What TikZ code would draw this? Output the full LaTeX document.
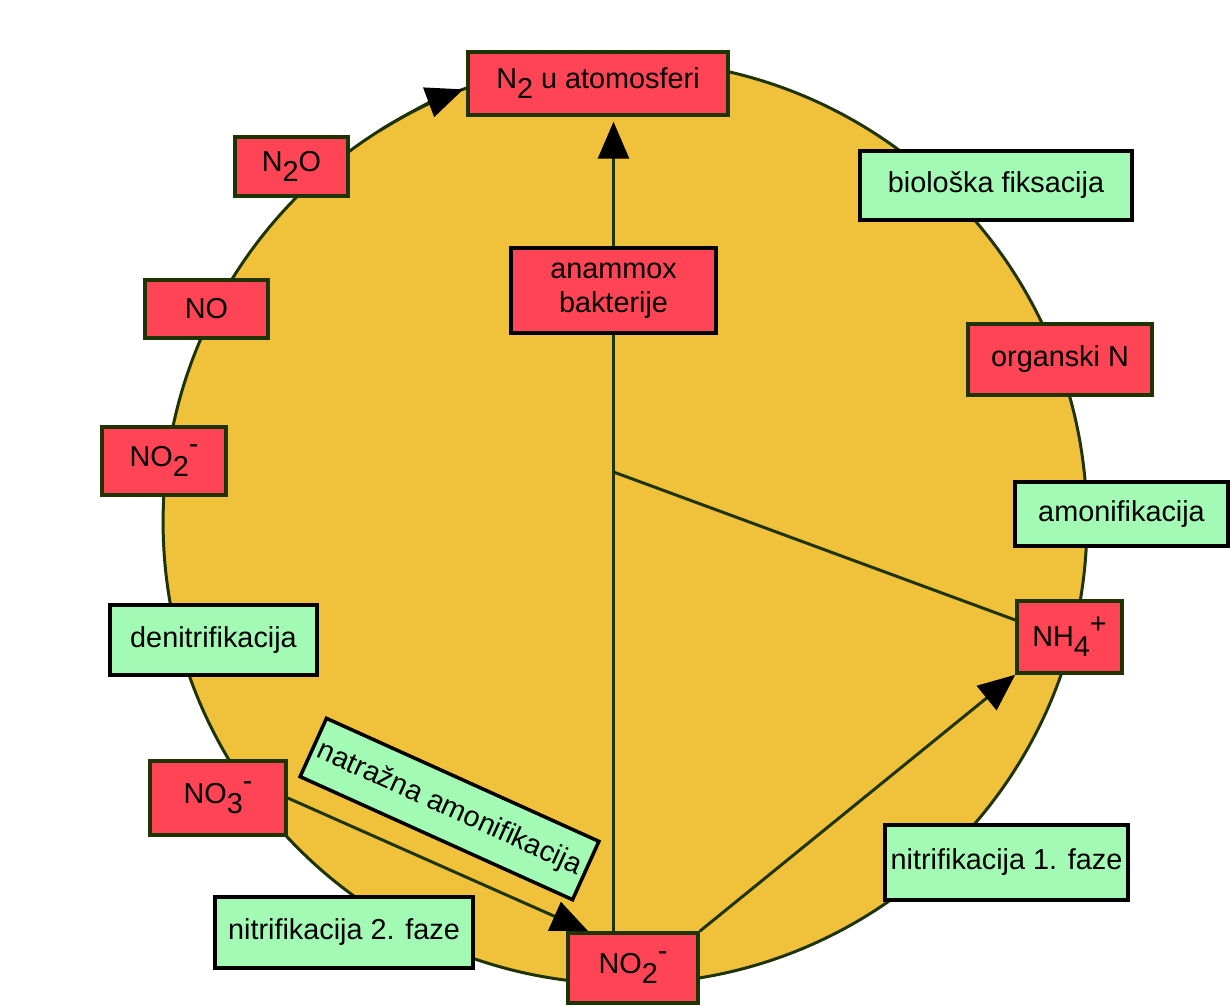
\documentclass[tikz,border=0pt]{standalone}
\usepackage{fontspec}
\setmainfont{Liberation Sans}
\usetikzlibrary{arrows.meta}
\definecolor{zuta}{RGB}{240,194,60}
\definecolor{crvena}{RGB}{255,68,85}
\definecolor{zelena}{RGB}{163,250,181}
\definecolor{tamna}{RGB}{30,52,5}
\newcommand\nizi[1]{\raisebox{-0.35em}{#1}}
\newcommand\vise[1]{\raisebox{0.45em}{#1}}

\begin{document}
\begin{tikzpicture}[x=0.02cm, y=-0.02cm,
  every node/.style={font=\fontsize{16.4}{19.5}\selectfont, inner sep=0pt},
  tvar/.style={draw=tamna, fill=crvena, line width=2pt},
  proces/.style={draw=black, fill=zelena, line width=2pt},
  veza/.style={draw=tamna, line width=1.7pt},
  vrh/.style={-{Triangle[length=7.4mm, width=6.2mm, color=black]}}]
  \useasboundingbox (0,0) rectangle (1230,1006);
  \node[circle, draw=tamna, fill=zuta, line width=1.7pt, minimum size=18.48cm] (krug) at (625,522) {};
  \node[tvar, minimum width=5.2cm, minimum height=1.26cm] (atm) at (598,83.5) {N\nizi{2} u atomosferi};
  \node[tvar, minimum width=2.26cm, minimum height=1.18cm] (n2o) at (291.5,166.5) {N\nizi{2}O};
  \node[tvar, minimum width=2.46cm, minimum height=1.16cm] (no) at (206.5,309) {NO};
  \node[tvar, minimum width=2.48cm, minimum height=1.36cm] (nol) at (164,461) {NO\nizi{2}\vise{-}};
  \node[proces, minimum width=4.14cm, minimum height=1.4cm] (denitr) at (213.5,640) {denitrifikacija};
  \node[tvar, minimum width=2.72cm, minimum height=1.48cm] (no3) at (218,798) {NO\nizi{3}\vise{-}};
  \node[proces, minimum width=5.16cm, minimum height=1.42cm] (nitr2) at (344,932.5) {nitrifikacija 2. faze};
  \node[tvar, minimum width=2.6cm, minimum height=1.4cm] (nob) at (633,968) {NO\nizi{2}\vise{-}};
  \node[proces, rotate=-24.3, minimum width=5.98cm, minimum height=1.28cm] (natr) at (449.5,809) {natražna amonifikacija};
  \node[tvar, draw=black, align=center, minimum width=4.1cm, minimum height=1.7cm] (anam) at (613.5,290.5) {anammox\\bakterije};
  \node[proces, minimum width=5.44cm, minimum height=1.38cm] (biol) at (996,185.5) {biološka fiksacija};
  \node[tvar, minimum width=3.68cm, minimum height=1.42cm] (org) at (1060,359.5) {organski N};
  \node[proces, minimum width=4.26cm, minimum height=1.28cm] (amon) at (1121.5,514) {amonifikacija};
  \node[tvar, minimum width=2.1cm, minimum height=1.44cm] (nh4) at (1069.5,637) {NH\nizi{4}\vise{+}};
  \node[proces, minimum width=4.86cm, minimum height=1.5cm] (nitr1) at (1006.5,862.5) {nitrifikacija 1. faze};
  \coordinate (cvor) at (613.5,472);
  \draw[veza, vrh] (krug.center) ++(122:9.24cm) arc[start angle=122, end angle=110.5, radius=9.24cm];
  \draw[veza] (nob.north -| anam.south) -- (anam.south);
  \draw[veza, vrh] (anam.north) -- ([yshift=-0.1cm]atm.south -| anam.north);
  \draw[veza] ([yshift=0.34cm]nh4.west) -- (cvor);
  \draw[veza, vrh] (nob.north east) -- (nh4.south west);
  \draw[veza, vrh] (no3.east) -- ([xshift=0.44cm]nob.north west);
\end{tikzpicture}
\end{document}
